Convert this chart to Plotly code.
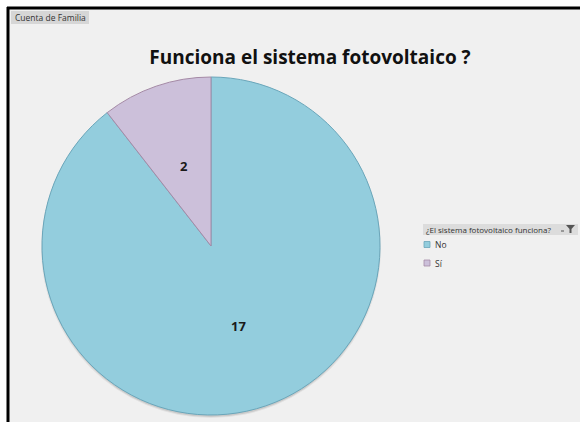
import math
import plotly.graph_objects as go

# Counts of families by whether their PV system works
categories = ["No", "Sí"]
counts = [17, 2]
slice_colors = ["#93cddd", "#ccc0da"]
edge_colors = ["#6aa6ba", "#a58aa6"]

W, H = 580, 422
BG = "#f0f0f0"

# pie geometry in pixels
CX, CY, R = 211, 246, 169


def px(x):
    return x / W


def py(y):
    return 1 - y / H


fig = go.Figure(
    go.Pie(
        labels=categories,
        values=counts,
        sort=False,
        direction="clockwise",
        rotation=0,
        marker=dict(colors=slice_colors, line=dict(color=edge_colors, width=1)),
        textinfo="none",
        domain=dict(x=[px(CX - R), px(CX + R)], y=[py(CY + R), py(CY - R)]),
        hoverinfo="label+value",
        showlegend=False,
    )
)

shapes = [
    # chart frame: white strip on top/left, black rules
    dict(type="rect", xref="paper", yref="paper", x0=0, x1=1, y0=py(8), y1=1,
         fillcolor="white", line=dict(width=0), layer="below"),
    dict(type="rect", xref="paper", yref="paper", x0=0, x1=px(8), y0=0, y1=1,
         fillcolor="white", line=dict(width=0), layer="below"),
    dict(type="line", xref="paper", yref="paper", x0=px(7), x1=1, y0=py(8), y1=py(8),
         line=dict(color="black", width=3)),
    dict(type="line", xref="paper", yref="paper", x0=px(8), x1=px(8), y0=0, y1=py(7),
         line=dict(color="black", width=3)),
    # soft drop shadow under the pie
    dict(type="circle", xref="paper", yref="paper",
         x0=px(CX - R - 1), x1=px(CX + R + 1), y0=py(CY + R + 3), y1=py(CY - R + 1),
         fillcolor="rgba(0,0,0,0.06)", line=dict(width=0), layer="below"),
    dict(type="circle", xref="paper", yref="paper",
         x0=px(CX - R), x1=px(CX + R), y0=py(CY + R + 2), y1=py(CY - R + 1),
         fillcolor="rgba(0,0,0,0.10)", line=dict(width=0), layer="below"),
    # "Cuenta de Familia" field button
    dict(type="rect", xref="paper", yref="paper", x0=px(11), x1=px(89),
         y0=py(24), y1=py(11), fillcolor="#d6d6d6", line=dict(width=0)),
    # legend header bar
    dict(type="rect", xref="paper", yref="paper", x0=px(423), x1=px(578),
         y0=py(235), y1=py(224), fillcolor="#dcdcdc", line=dict(width=0), layer="below"),
    # filter funnel icon
    dict(type="path", xref="paper", yref="paper",
         path=(f"M {px(566)} {py(225)} L {px(575)} {py(225)} L {px(571.5)} {py(229)} "
               f"L {px(571.5)} {py(233)} L {px(569.5)} {py(233)} L {px(569.5)} {py(229)} Z"),
         fillcolor="#555555", line=dict(width=0)),
    dict(type="line", xref="paper", yref="paper", x0=px(561), x1=px(564),
         y0=py(231), y1=py(231), line=dict(color="#555555", width=1)),
]

annotations = [
    dict(text="Cuenta de Familia", xref="paper", yref="paper", x=px(13), y=py(17.5),
         xanchor="left", yanchor="middle", showarrow=False,
         font=dict(family="Open Sans", size=8.5, color="#333333")),
    dict(text="¿El sistema fotovoltaico funciona?", xref="paper", yref="paper",
         x=px(424), y=py(229.5), xanchor="left", yanchor="middle", showarrow=False,
         font=dict(family="Open Sans", size=8, color="#333333")),
]

# value labels on the slice bisectors, half-way out from the centre
total = sum(counts)
start = 0.0
for value in counts:
    sweep = 360.0 * value / total
    mid = math.radians(start + sweep / 2)
    lx = CX + 0.5 * R * math.sin(mid)
    ly = CY - 0.5 * R * math.cos(mid)
    annotations.append(dict(
        text=f"<b>{value}</b>", xref="paper", yref="paper", x=px(lx), y=py(ly),
        xanchor="center", yanchor="middle", showarrow=False,
        font=dict(family="Open Sans", size=13, color="#1a1a1a"),
    ))
    start += sweep

# legend entries
for i, (name, color, edge) in enumerate(zip(categories, slice_colors, edge_colors)):
    yc = 244.5 + 18.5 * i
    shapes.append(dict(type="rect", xref="paper", yref="paper",
                       x0=px(424), x1=px(430), y0=py(yc + 3), y1=py(yc - 3),
                       fillcolor=color, line=dict(color=edge, width=0.8)))
    annotations.append(dict(text=name, xref="paper", yref="paper", x=px(433), y=py(yc),
                            xanchor="left", yanchor="middle", showarrow=False,
                            font=dict(family="Open Sans", size=8.5, color="#333333")))

fig.update_layout(
    width=W,
    height=H,
    margin=dict(l=0, r=0, t=0, b=0),
    paper_bgcolor=BG,
    plot_bgcolor=BG,
    title=dict(
        text="<b>Funciona el sistema fotovoltaico ?</b>",
        x=px(310), y=py(57), xanchor="center", yanchor="middle",
        xref="paper", yref="paper",
        font=dict(family="Open Sans", size=19, color="#111111"),
    ),
    shapes=shapes,
    annotations=annotations,
)

fig.write_html("out.html")
